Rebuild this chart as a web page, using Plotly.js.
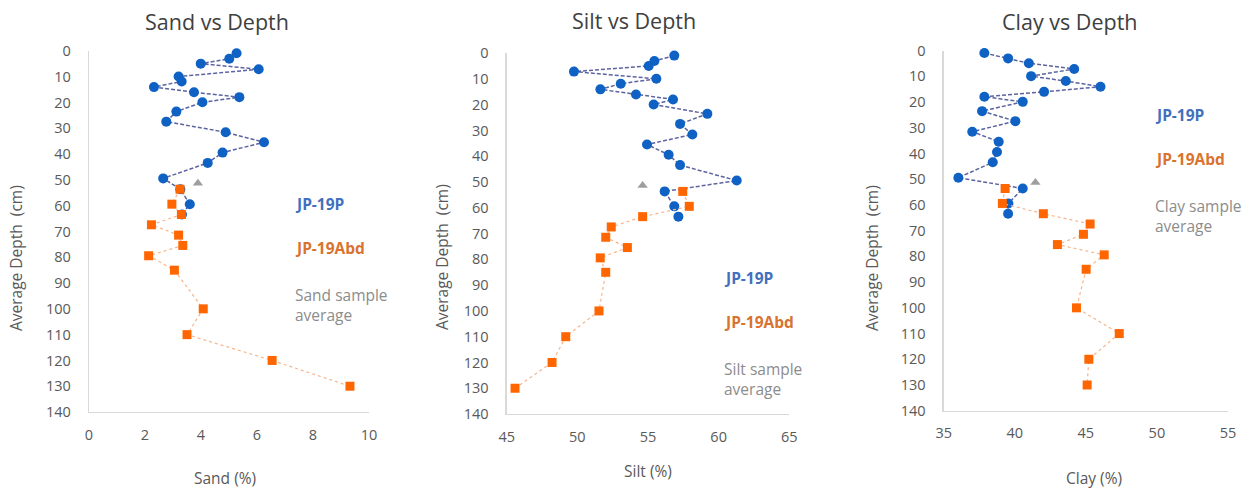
<!DOCTYPE html>
<html>
<head>
<meta charset="utf-8">
<script src="https://cdn.plot.ly/plotly-3.0.1.min.js"></script>
<style>html,body{margin:0;padding:0;background:#fff;}#chart{width:1249px;height:490px;}</style>
</head>
<body>
<div id="chart"></div>
<script>
// ---- Data ----
const depthP = [0.9, 3.0, 4.9, 7.1, 9.9, 11.8, 14.0, 16.0, 17.9, 19.9, 23.5, 27.4, 31.5, 35.4, 39.4, 43.4, 49.4, 53.6, 59.4, 63.4];
const sandP  = [5.27, 5.01, 3.99, 6.06, 3.20, 3.31, 2.32, 3.75, 5.37, 4.05, 3.12, 2.76, 4.88, 6.25, 4.77, 4.24, 2.65, 3.26, 3.60, 3.32];
const siltP  = [56.86, 55.45, 55.05, 49.76, 55.59, 53.07, 51.63, 54.15, 56.77, 55.40, 59.20, 57.27, 58.14, 54.93, 56.46, 57.27, 61.28, 56.18, 56.86, 57.15];
const clayP  = [37.86, 39.53, 40.99, 44.18, 41.15, 43.59, 46.03, 42.06, 37.86, 40.56, 37.70, 40.04, 37.01, 38.87, 38.75, 38.45, 36.03, 40.56, 39.55, 39.53];

const depthA = [53.6, 59.4, 63.4, 67.4, 71.4, 75.4, 79.4, 85.0, 100.0, 110.0, 120.0, 130.0];
const sandA  = [3.25, 2.96, 3.30, 2.23, 3.20, 3.35, 2.13, 3.05, 4.08, 3.50, 6.54, 9.32];
const siltA  = [57.46, 57.92, 54.62, 52.40, 52.01, 53.54, 51.62, 52.01, 51.53, 49.18, 48.21, 45.59];
const clayA  = [39.32, 39.13, 42.01, 45.30, 44.83, 43.00, 46.29, 45.02, 44.34, 47.35, 45.21, 45.09];

const avgDepth = [51.3];
const sandAvg = [3.89];
const siltAvg = [54.62];
const clayAvg = [41.45];

const panelTitles = ["Sand vs Depth", "Silt vs Depth", "Clay vs Depth"];
const xTitles = ["Sand (%)", "Silt (%)", "Clay (%)"];
const avgLabels = ["Sand sample<br>average", "Silt sample<br>average", "Clay sample<br>average"];
const seriesNames = ["JP-19P", "JP-19Abd"];
const depthTicks = [0, 10, 20, 30, 40, 50, 60, 70, 80, 90, 100, 110, 120, 130, 140];

// ---- Styling ----
const W = 1249, H = 490;
const FONT = "'Open Sans', 'Noto Sans', sans-serif";
const TXT = "#595959";
const BLUE = "#0F62C4", ORANGE = "#FF6600", GREY = "#9E9E9E";
const px = v => v / W, py = v => 1 - v / H;

const panels = [
  {xs: [sandP, sandA, sandAvg], range: [0, 10], dtick: 2, xd: [89, 369], yd: [51, 412]},
  {xs: [siltP, siltA, siltAvg], range: [45, 65], dtick: 5, xd: [506.7, 789.3], yd: [53.3, 414]},
  {xs: [clayP, clayA, clayAvg], range: [35, 55], dtick: 5, xd: [943.7, 1228], yd: [50.7, 410.7]}
];

const traces = [];
const layout = {
  width: W, height: H,
  margin: {l: 0, r: 0, t: 0, b: 0},
  paper_bgcolor: "#fff", plot_bgcolor: "#fff",
  showlegend: false,
  font: {family: FONT, color: TXT, size: 14},
  annotations: []
};

const titlePos = [[217, 22], [634, 21], [1070, 22]];
const ytPos = [[16, 258], [442, 257], [872, 258]];
const xtPos = [[225, 478], [648, 471], [1094, 478]];
const legPos = [[293, [204, 248, 305]], [722, [278, 322, 379]], [1153, [115, 159, 216]]];

panels.forEach((p, i) => {
  const sx = i === 0 ? "" : String(i + 1);
  const xa = "x" + sx, ya = "y" + sx;
  traces.push({
    type: "scatter", mode: "lines+markers", name: seriesNames[0], cliponaxis: false,
    x: p.xs[0], y: depthP, xaxis: xa, yaxis: ya,
    line: {color: "#5C64A0", width: 1.5, dash: "4px,2px"},
    marker: {symbol: "circle", size: 10, color: BLUE}
  });
  traces.push({
    type: "scatter", mode: "lines+markers", name: seriesNames[1], cliponaxis: false,
    x: p.xs[1], y: depthA, xaxis: xa, yaxis: ya,
    line: {color: "#F8B48A", width: 1.2, dash: "dot"},
    marker: {symbol: "square", size: 9, color: ORANGE}
  });
  traces.push({
    type: "scatter", mode: "markers", name: "sample average", cliponaxis: false,
    x: p.xs[2], y: avgDepth, xaxis: xa, yaxis: ya,
    marker: {symbol: "triangle-up", size: 9, color: GREY}
  });

  layout["xaxis" + sx] = {
    domain: [px(p.xd[0]), px(p.xd[1])], anchor: ya,
    range: p.range, dtick: p.dtick, tick0: p.range[0],
    showline: true, linecolor: "#D9D9D9", linewidth: 1.3,
    showgrid: false, zeroline: false, ticks: "",
    ticklabelstandoff: 9,
    tickfont: {family: FONT, size: 14.5, color: TXT},
    fixedrange: true
  };
  layout["yaxis" + sx] = {
    domain: [py(p.yd[1]), py(p.yd[0])], anchor: xa,
    range: [140, 0], tickvals: depthTicks,
    showline: true, linecolor: "#D9D9D9", linewidth: 1.3,
    showgrid: false, zeroline: false, ticks: "",
    ticklabelstandoff: 14,
    tickfont: {family: FONT, size: 14.5, color: TXT},
    fixedrange: true
  };

  layout.annotations.push({
    xref: "paper", yref: "paper", x: px(titlePos[i][0]), y: py(titlePos[i][1]),
    xanchor: "center", yanchor: "middle", showarrow: false,
    text: panelTitles[i], font: {family: FONT, size: 21.5, color: "#404040"}
  });
  layout.annotations.push({
    xref: "paper", yref: "paper", x: px(ytPos[i][0]), y: py(ytPos[i][1]),
    xanchor: "center", yanchor: "middle", showarrow: false, textangle: -90,
    text: "Average Depth  (cm)", font: {family: FONT, size: 15.5, color: TXT}
  });
  layout.annotations.push({
    xref: "paper", yref: "paper", x: px(xtPos[i][0]), y: py(xtPos[i][1]),
    xanchor: "center", yanchor: "middle", showarrow: false,
    text: xTitles[i], font: {family: FONT, size: 15.5, color: TXT}
  });
  const lx = legPos[i][0], ly = legPos[i][1];
  layout.annotations.push({
    xref: "paper", yref: "paper", x: px(lx), y: py(ly[0]),
    xanchor: "left", yanchor: "middle", showarrow: false,
    text: "<b>" + seriesNames[0] + "</b>", font: {family: FONT, size: 15.5, color: "#4270BE"}
  });
  layout.annotations.push({
    xref: "paper", yref: "paper", x: px(lx), y: py(ly[1]),
    xanchor: "left", yanchor: "middle", showarrow: false,
    text: "<b>" + seriesNames[1] + "</b>", font: {family: FONT, size: 15.5, color: "#D9732F"}
  });
  layout.annotations.push({
    xref: "paper", yref: "paper", x: px(lx), y: py(ly[2]),
    xanchor: "left", yanchor: "middle", align: "left", showarrow: false,
    text: avgLabels[i], font: {family: FONT, size: 15.5, color: "#8C8C8C"}
  });
});

Plotly.newPlot("chart", traces, layout, {staticPlot: true, displayModeBar: false});
</script>
</body>
</html>
